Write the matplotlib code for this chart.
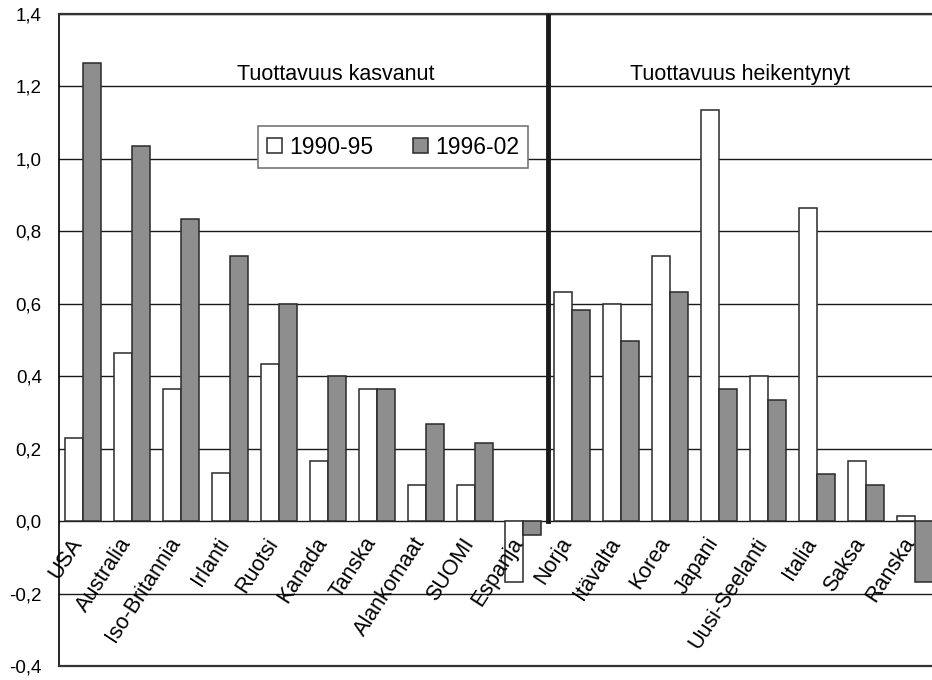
import matplotlib
matplotlib.use("Agg")
import matplotlib.pyplot as plt
from matplotlib.patches import Patch
import numpy as np

plt.rcParams["font.family"] = ["Liberation Sans", "DejaVu Sans"]

# Countries and productivity growth contributions
countries = ["USA", "Australia", "Iso-Britannia", "Irlanti", "Ruotsi", "Kanada",
             "Tanska", "Alankomaat", "SUOMI", "Espanja", "Norja", "Itävalta",
             "Korea", "Japani", "Uusi-Seelanti", "Italia", "Saksa", "Ranska"]
v_1990_95 = [0.23, 0.465, 0.365, 0.133, 0.433, 0.165, 0.365, 0.10, 0.10, -0.168,
             0.632, 0.60, 0.731, 1.135, 0.40, 0.865, 0.165, 0.015]
v_1996_02 = [1.265, 1.035, 0.834, 0.731, 0.60, 0.40, 0.365, 0.267, 0.215, -0.038,
             0.583, 0.498, 0.632, 0.365, 0.333, 0.131, 0.10, -0.167]
series_labels = ["1990-95", "1996-02"]
yticks = [-0.4, -0.2, 0.0, 0.2, 0.4, 0.6, 0.8, 1.0, 1.2, 1.4]

GRAY = "#8e8e8e"
EDGE = "#2a2a2a"

fig = plt.figure(figsize=(9.32, 6.8), dpi=100)
# plot area is cut off at the right edge of the picture, as in the original
ax = fig.add_axes([58.5 / 932, 14 / 680, 881 / 932, 652 / 680])

x = np.arange(len(countries))
w = 0.368
ax.bar(x - w / 2, v_1990_95, w, color="white", edgecolor=EDGE, linewidth=1.1, zorder=3)
ax.bar(x + w / 2, v_1996_02, w, color=GRAY, edgecolor=EDGE, linewidth=1.1, zorder=3)

ax.set_xlim(-0.5, len(countries) - 0.5)
ax.set_ylim(-0.4, 1.4)
ax.set_yticks(yticks)
ax.set_yticklabels([f"{t:.1f}".replace(".", ",") for t in yticks], fontsize=13.5)
ax.tick_params(axis="y", length=0, pad=12)
ax.set_xticks([])
ax.yaxis.grid(True, color="#1a1a1a", linewidth=1.0, zorder=0)
ax.set_axisbelow(True)

for s in ["top", "bottom"]:
    ax.spines[s].set_linewidth(1.6)
    ax.spines[s].set_color("#333333")
ax.spines["left"].set_linewidth(1.2)
ax.spines["right"].set_visible(False)

# category labels sit just under the zero line, inside the plot
for i, name in enumerate(countries):
    ax.text(i - 0.28, -0.035, name, rotation=57, ha="right", va="top",
            rotation_mode="anchor", fontsize=15.5, zorder=4)

# divider between the two groups
ax.plot([9.5, 9.5], [0, 1.4], color="#1a1a1a", linewidth=3.5, zorder=4)

ax.text(5.17, 1.232, "Tuottavuus kasvanut", ha="center", va="center", fontsize=15.5)
ax.text(13.42, 1.232, "Tuottavuus heikentynyt", ha="center", va="center", fontsize=15.5)

handles = [Patch(facecolor="white", edgecolor=EDGE, linewidth=1.1),
           Patch(facecolor=GRAY, edgecolor=EDGE, linewidth=1.1)]
leg = ax.legend(handles, series_labels, ncol=2, loc="center", bbox_to_anchor=(0.38, 0.796),
                fontsize=16.5, frameon=True, fancybox=False, framealpha=1,
                handlelength=0.65, handleheight=0.65, handletextpad=0.3,
                columnspacing=1.75, borderpad=0.4, borderaxespad=0)
leg.get_frame().set_edgecolor("#777777")
leg.get_frame().set_linewidth(1.2)
leg.set_zorder(5)

fig.savefig("out.png", dpi=100)
